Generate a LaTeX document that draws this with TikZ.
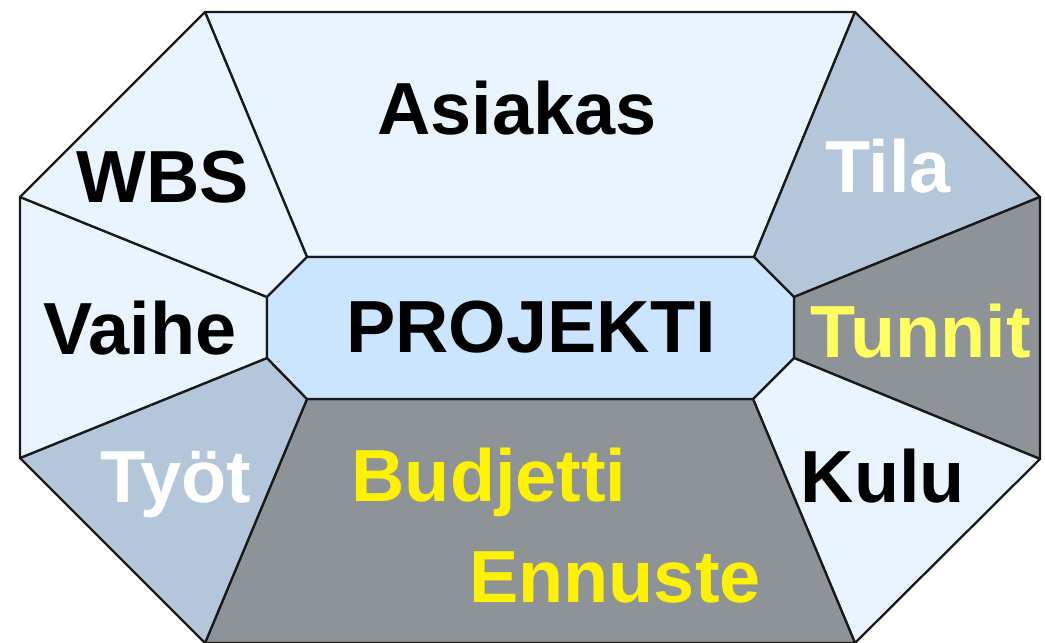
\documentclass[tikz,border=0pt]{standalone}
\usepackage{fontspec}
\setmainfont{Liberation Sans}

\definecolor{paleblue}{HTML}{EAF4FF}
\definecolor{midblue}{HTML}{CCE5FF}
\definecolor{steel}{HTML}{B4C7DA}
\definecolor{slate}{HTML}{8E9398}
\definecolor{paleyellow}{HTML}{FFFF60}

\begin{document}
\begin{tikzpicture}[x = 0.01cm, y = -0.01cm,
		seg/.style = {draw = black!90, line width = 0.65pt, line join = round},
		lbl/.style = {anchor = base, inner sep = 0pt, font = \fontsize{21}{25}\selectfont\bfseries}]
		\useasboundingbox (0,0) rectangle (1045,643);
		\coordinate (o1) at (205,12);
		\coordinate (o2) at (855,12);
		\coordinate (o3) at (1040,197);
		\coordinate (o4) at (1040,459);
		\coordinate (o5) at (855,643);
		\coordinate (o6) at (205,643);
		\coordinate (o7) at (20,458);
		\coordinate (o8) at (20,197);
		\coordinate (i1) at (307,257);
		\coordinate (i2) at (754,257);
		\coordinate (i3) at (794,297);
		\coordinate (i4) at (794,358);
		\coordinate (i5) at (753,399);
		\coordinate (i6) at (307,399);
		\coordinate (i7) at (267,358);
		\coordinate (i8) at (267,297);
		\draw[seg, fill = paleblue] (o1) -- (o2) -- (i2) -- (i1) -- cycle;
		\draw[seg, fill = steel] (o2) -- (o3) -- (i3) -- (i2) -- cycle;
		\draw[seg, fill = slate] (o3) -- (o4) -- (i4) -- (i3) -- cycle;
		\draw[seg, fill = paleblue] (o4) -- (o5) -- (i5) -- (i4) -- cycle;
		\draw[seg, fill = slate] (o5) -- (o6) -- (i6) -- (i5) -- cycle;
		\draw[seg, fill = steel] (o6) -- (o7) -- (i7) -- (i6) -- cycle;
		\draw[seg, fill = paleblue] (o7) -- (o8) -- (i8) -- (i7) -- cycle;
		\draw[seg, fill = paleblue] (o8) -- (o1) -- (i1) -- (i8) -- cycle;
		\draw[seg, fill = midblue] (i1) -- (i2) -- (i3) -- (i4) -- (i5) -- (i6) -- (i7) -- (i8) -- cycle;
		\node[lbl] (asiakas) at (517,135) {Asiakas};
		\node[lbl, color = white] (tila) at (888,193) {Tila};
		\node[lbl, color = paleyellow] (tunnit) at (921,358) {Tunnit};
		\node[lbl] (kulu) at (883,503) {Kulu};
		\node[lbl, color = yellow] (budjetti) at (489,502) {Budjetti};
		\node[lbl, color = yellow] (ennuste) at (615,603) {Ennuste};
		\node[lbl, color = white] (tyot) at (176,503) {Työt};
		\node[lbl] (vaihe) at (140,355) {Vaihe};
		\node[lbl] (wbs) at (163,203) {WBS};
		\node[lbl] (projekti) at (531,353) {PROJEKTI};
	\end{tikzpicture}
\end{document}
